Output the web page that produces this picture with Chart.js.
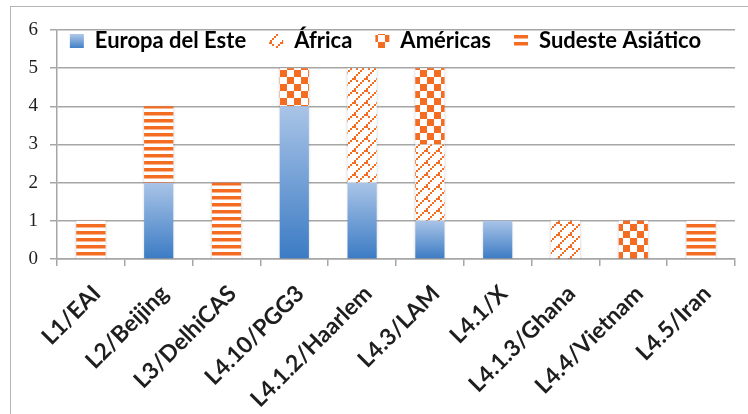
<!DOCTYPE html>
<html>
<head>
<meta charset="utf-8">
<script src="https://cdn.jsdelivr.net/npm/chart.js@4.4.1/dist/chart.umd.min.js"></script>
<style>
  html, body { margin: 0; padding: 0; background: #fff; overflow: hidden; }
  #frame { position: absolute; left: 10px; top: 6px; width: 800px; height: 500px;
           border-left: 1.5px solid #b5b5b5; border-top: 1.5px solid #b5b5b5; }
  #grafico { position: absolute; left: 0; top: 0; }
</style>
</head>
<body>
<div id="frame"></div>
<canvas id="grafico" width="748" height="414"></canvas>
<script>
// Linajes y número de aislados por región
const linajes = ["L1/EAI", "L2/Beijing", "L3/DelhiCAS", "L4.10/PGG3", "L4.1.2/Haarlem",
                 "L4.3/LAM", "L4.1/X", "L4.1.3/Ghana", "L4.4/Vietnam", "L4.5/Iran"];
const europaEste = [0, 2, 0, 4, 2, 1, 1, 0, 0, 0];
const africa     = [0, 0, 0, 0, 3, 2, 0, 1, 0, 0];
const americas   = [0, 0, 0, 1, 0, 2, 0, 0, 1, 0];
const sudeste    = [1, 2, 2, 0, 0, 0, 0, 0, 0, 1];
const ticksY = [0, 1, 2, 3, 4, 5, 6];

const NARANJA = "#f36c21";

// tramas tipo Excel
function tile(w, h, draw) {
    const c = document.createElement("canvas");
    c.width = w; c.height = h;
    const g = c.getContext("2d");
    g.fillStyle = "#fff";
    g.fillRect(0, 0, w, h);
    g.fillStyle = NARANJA;
    draw(g);
    return document.getElementById("grafico").getContext("2d").createPattern(c, "repeat");
}

const rayas = tile(8, 7, g => g.fillRect(0, 0, 8, 3.5));
const cuadros = tile(14, 14, g => { g.fillRect(0, 0, 7, 7); g.fillRect(7, 7, 7, 7); });
const zigzag = tile(12, 12, g => {
    for (let i = 0; i < 12; i += 2) g.fillRect(i, 10 - i, 2, 2);
    for (let i = 0; i < 4; i += 2) g.fillRect(6 + i, 6 + i, 2, 2);
});

function degradado(ctx) {
    const chart = ctx.chart;
    if (!chart.chartArea || ctx.type !== "data") return "#6f9bd4";
    const y = chart.scales.y;
    const top = y.getPixelForValue(ctx.raw);
    const base = y.getPixelForValue(0);
    if (Math.abs(base - top) < 1) return "#3d7cc4";
    const g = chart.ctx.createLinearGradient(0, top, 0, base);
    g.addColorStop(0, "#a9c4e7");
    g.addColorStop(1, "#3b7bc4");
    return g;
}

const legendGrad = document.getElementById("grafico").getContext("2d").createLinearGradient(0, 35, 0, 49);
legendGrad.addColorStop(0, "#a9c4e7");
legendGrad.addColorStop(1, "#3b7bc4");
const legendFills = [legendGrad, zigzag, cuadros, rayas];

// la leyenda no ocupa alto: se dibuja dentro del área, bajo la línea del 6
const ajustes = {
    id: "ajustes",
    beforeLayout(chart) {
        const lg = chart.legend;
        if (lg && !lg._sinAlto) {
            const fit = lg.fit;
            lg.fit = function () { fit.call(this); this.height = 0; };
            lg._sinAlto = true;
        }
    },
    afterLayout(chart) {
        const lg = chart.legend;
        lg.top -= 23;
        lg.height = 50;
        lg.bottom = lg.top + 50;
        lg.left += 18;
        lg.right += 18;
    },
    beforeDatasetsDraw(chart) {
        const c = chart.ctx;
        c.save();
        c.shadowColor = "rgba(0,0,0,0.22)";
        c.shadowBlur = 3;
        c.shadowOffsetY = 1;
    },
    afterDatasetsDraw(chart) {
        chart.ctx.restore();
    }
};

const comun = { borderWidth: 0, barPercentage: 0.43, categoryPercentage: 1 };

new Chart(document.getElementById("grafico"), {
    type: "bar",
    data: {
        labels: linajes,
        datasets: [
            Object.assign({ label: "Europa del Este", data: europaEste, backgroundColor: degradado }, comun),
            Object.assign({ label: "África", data: africa, backgroundColor: zigzag }, comun),
            Object.assign({ label: "Américas", data: americas, backgroundColor: cuadros }, comun),
            Object.assign({ label: "Sudeste Asiático", data: sudeste, backgroundColor: rayas }, comun)
        ]
    },
    options: {
        responsive: false,
        animation: false,
        layout: { padding: { top: 30, right: 13, left: 0, bottom: 0 } },
        plugins: {
            tooltip: { enabled: false },
            legend: {
                position: "top",
                align: "center",
                labels: {
                    boxWidth: 14,
                    boxHeight: 14,
                    padding: 23,
                    color: "#1e1e1e",
                    font: { family: "Lato", weight: "bold", size: 22 },
                    generateLabels: chart => chart.data.datasets.map((ds, i) => ({
                        text: ds.label,
                        fillStyle: legendFills[i],
                        strokeStyle: "rgba(0,0,0,0)",
                        lineWidth: 0,
                        datasetIndex: i
                    }))
                }
            }
        },
        scales: {
            x: {
                stacked: true,
                afterFit: s => { s.height = 155; },
                grid: { drawOnChartArea: false, drawTicks: true, tickLength: 7, color: "#a6a6a6", lineWidth: 1.5 },
                border: { color: "#a6a6a6", width: 1.5 },
                ticks: {
                    autoSkip: false,
                    minRotation: 45,
                    maxRotation: 45,
                    padding: 14,
                    labelOffset: 6,
                    color: "#1e1e1e",
                    font: { family: "Lato", weight: "bold", size: 23 }
                }
            },
            y: {
                stacked: true,
                min: 0,
                max: 6,
                afterFit: s => { s.width = 57; },
                afterBuildTicks: s => { s.ticks = ticksY.map(v => ({ value: v })); },
                grid: { color: "#a6a6a6", lineWidth: 1.5, tickLength: 7 },
                border: { color: "#a6a6a6", width: 1.5 },
                ticks: {
                    padding: 12,
                    color: "#1e1e1e",
                    font: { family: "Liberation Serif", size: 19 }
                }
            }
        }
    },
    plugins: [ajustes]
});
</script>
</body>
</html>
